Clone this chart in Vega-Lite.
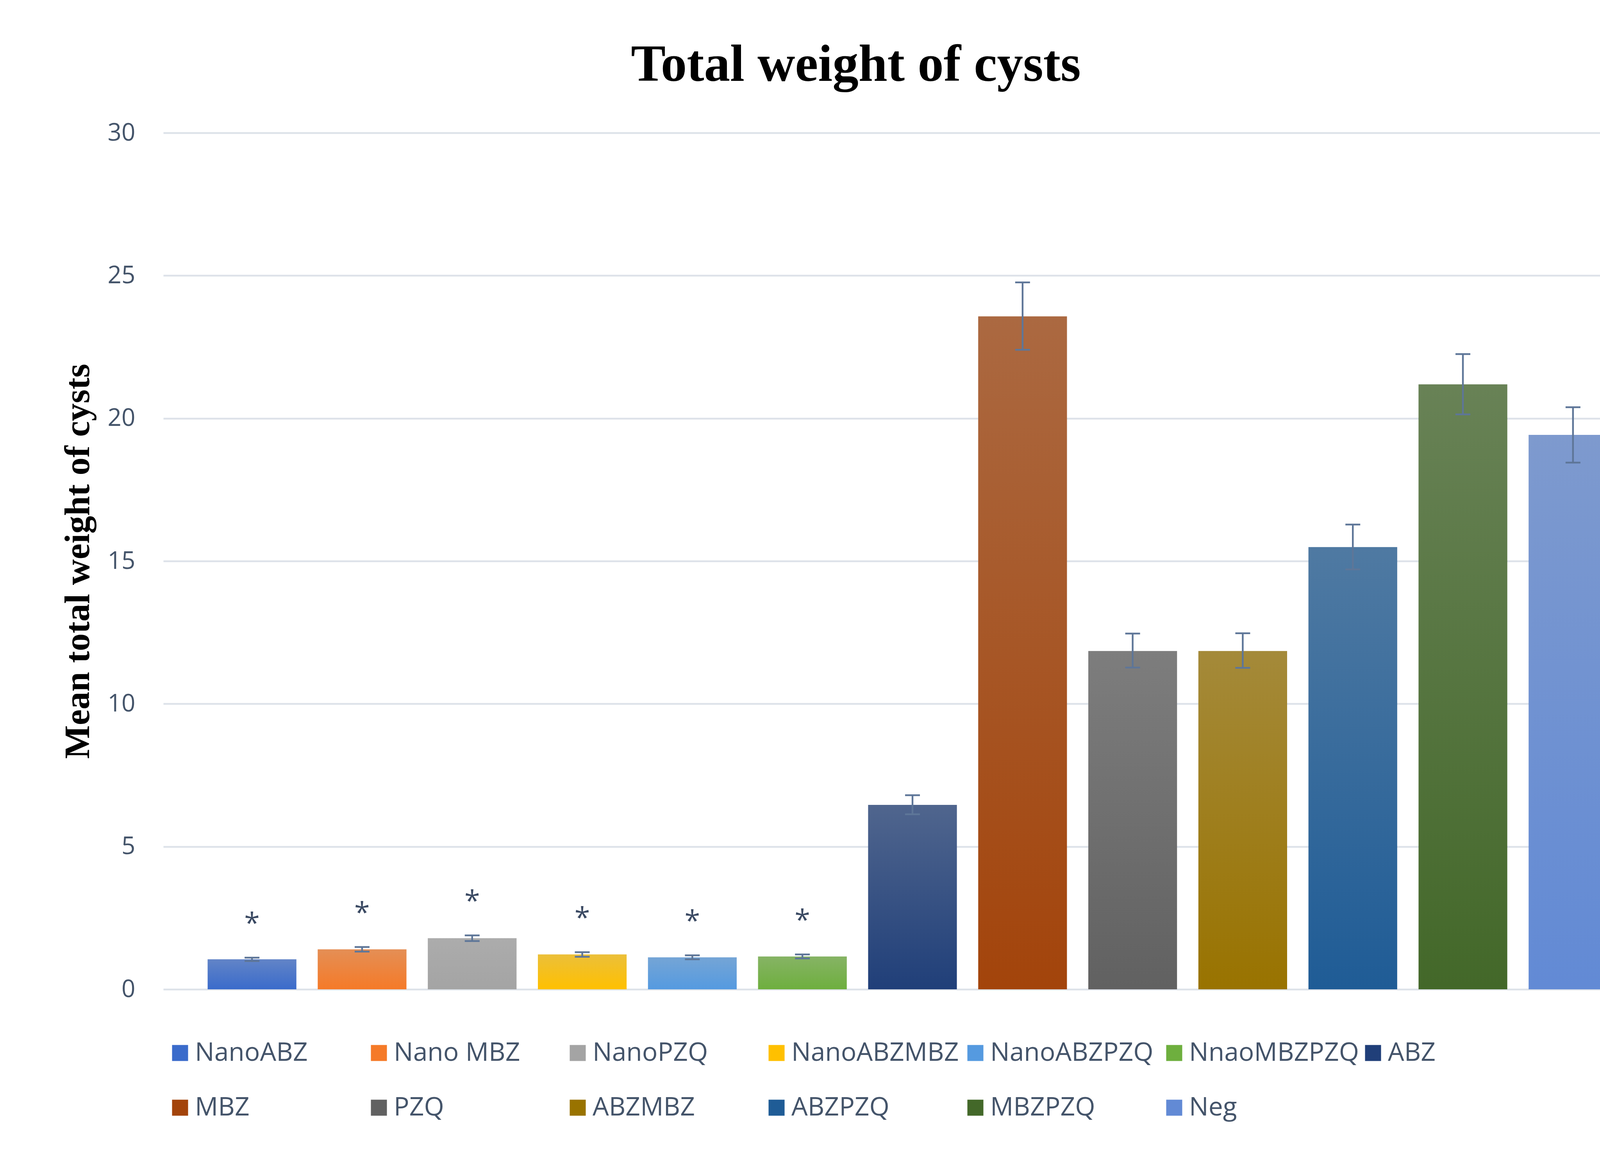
{
  "$schema": "https://vega.github.io/schema/vega-lite/v6.json",
  "width": 3836,
  "height": 2192,
  "autosize": {"type": "none"},
  "padding": {"left": 418, "top": 340, "right": 117, "bottom": 442},
  "background": "white",
  "config": {"view": {"stroke": null}},
  "title": {
    "text": "Total weight of cysts",
    "font": "Liberation Serif",
    "fontWeight": "bold",
    "fontSize": 133,
    "color": "#000000",
    "anchor": "middle",
    "frame": "group",
    "dx": -145,
    "baseline": "alphabetic",
    "offset": -31
  },
  "data": {
    "values": [
      {"group": "NanoABZ", "mean": 1.05, "lower": 0.99, "upper": 1.11, "sig": "*"},
      {"group": "Nano MBZ", "mean": 1.40, "lower": 1.32, "upper": 1.48, "sig": "*"},
      {"group": "NanoPZQ", "mean": 1.79, "lower": 1.69, "upper": 1.89, "sig": "*"},
      {"group": "NanoABZMBZ", "mean": 1.22, "lower": 1.14, "upper": 1.30, "sig": "*"},
      {"group": "NanoABZPZQ", "mean": 1.12, "lower": 1.05, "upper": 1.19, "sig": "*"},
      {"group": "NnaoMBZPZQ", "mean": 1.15, "lower": 1.08, "upper": 1.22, "sig": "*"},
      {"group": "ABZ", "mean": 6.46, "lower": 6.13, "upper": 6.80, "sig": ""},
      {"group": "MBZ", "mean": 23.57, "lower": 22.40, "upper": 24.76, "sig": ""},
      {"group": "PZQ", "mean": 11.85, "lower": 11.27, "upper": 12.46, "sig": ""},
      {"group": "ABZMBZ", "mean": 11.85, "lower": 11.26, "upper": 12.47, "sig": ""},
      {"group": "ABZPZQ", "mean": 15.49, "lower": 14.71, "upper": 16.28, "sig": ""},
      {"group": "MBZPZQ", "mean": 21.19, "lower": 20.14, "upper": 22.25, "sig": ""},
      {"group": "Neg", "mean": 19.42, "lower": 18.45, "upper": 20.39, "sig": ""}
    ]
  },
  "encoding": {
    "x": {
      "field": "group",
      "type": "nominal",
      "sort": null,
      "axis": null,
      "scale": {"paddingInner": 0.194, "paddingOuter": 0.403}
    }
  },
  "layer": [
    {
      "mark": {"type": "bar"},
      "encoding": {
        "y": {
          "field": "mean",
          "type": "quantitative",
          "title": "Mean total weight of cysts",
          "scale": {"domain": [0, 30], "nice": false},
          "axis": {
            "values": [0, 5, 10, 15, 20, 25, 30],
            "format": "d",
            "grid": true,
            "gridColor": "#DDE2E9",
            "gridWidth": 4.5,
            "ticks": false,
            "domain": false,
            "labelFont": "Open Sans",
            "labelFontSize": 62,
            "labelColor": "#44546A",
            "labelPadding": 72,
            "titleFont": "Liberation Serif",
            "titleFontWeight": "bold",
            "titleFontSize": 91,
            "titleColor": "#000000",
            "titleX": -191,
            "titleY": 1096,
            "titleAngle": -90,
            "titleAlign": "center",
            "titleBaseline": "alphabetic"
          }
        },
        "fill": {
          "field": "group",
          "type": "nominal",
          "sort": null,
          "scale": {
            "domain": ["NanoABZ", "Nano MBZ", "NanoPZQ", "NanoABZMBZ", "NanoABZPZQ", "NnaoMBZPZQ", "ABZ", "MBZ", "PZQ", "ABZMBZ", "ABZPZQ", "MBZPZQ", "Neg"],
            "range": ["#3A6BCB", "#F57A28", "#A4A4A4", "#FFC000", "#559AE0", "#6EAF3E", "#203F79", "#A3440B", "#616161", "#997300", "#1F5C96", "#436829", "#628AD5"]
          },
          "legend": {
            "orient": "none",
            "legendX": 10,
            "legendY": 2322,
            "direction": "horizontal",
            "columns": 7,
            "title": null,
            "symbolType": "square",
            "symbolSize": 1681,
            "symbolStrokeWidth": 0,
            "symbolOpacity": 1,
            "labelFont": "Open Sans",
            "labelFontSize": 66,
            "labelColor": "#44546A",
            "labelOffset": 5,
            "labelLimit": 1000,
            "gridAlign": "all",
            "columnPadding": 2,
            "rowPadding": 74
          }
        }
      }
    },
    {
      "mark": {
        "type": "bar",
        "fill": {"gradient": "linear", "x1": 0, "y1": 0, "x2": 0, "y2": 1, "stops": [{"offset": 0, "color": "rgba(190,190,190,0.3)"}, {"offset": 1, "color": "rgba(190,190,190,0)"}]}
      },
      "encoding": {
        "y": {"field": "mean", "type": "quantitative", "title": "Mean total weight of cysts"}
      }
    },
    {
      "mark": {"type": "rule", "color": "#5E7698", "strokeWidth": 4.5},
      "encoding": {
        "y": {"field": "lower", "type": "quantitative", "title": "Mean total weight of cysts"},
        "y2": {"field": "upper"}
      }
    },
    {
      "mark": {"type": "tick", "color": "#5E7698", "size": 38, "thickness": 4.5, "opacity": 1},
      "encoding": {
        "y": {"field": "upper", "type": "quantitative", "title": "Mean total weight of cysts"}
      }
    },
    {
      "mark": {"type": "tick", "color": "#5E7698", "size": 38, "thickness": 4.5, "opacity": 1},
      "encoding": {
        "y": {"field": "lower", "type": "quantitative", "title": "Mean total weight of cysts"}
      }
    },
    {
      "mark": {"type": "text", "font": "Open Sans", "fontSize": 72, "color": "#3B4A63", "align": "center", "baseline": "alphabetic", "dy": -64},
      "encoding": {
        "y": {"field": "upper", "type": "quantitative", "title": "Mean total weight of cysts"},
        "text": {"field": "sig"}
      }
    }
  ]
}
